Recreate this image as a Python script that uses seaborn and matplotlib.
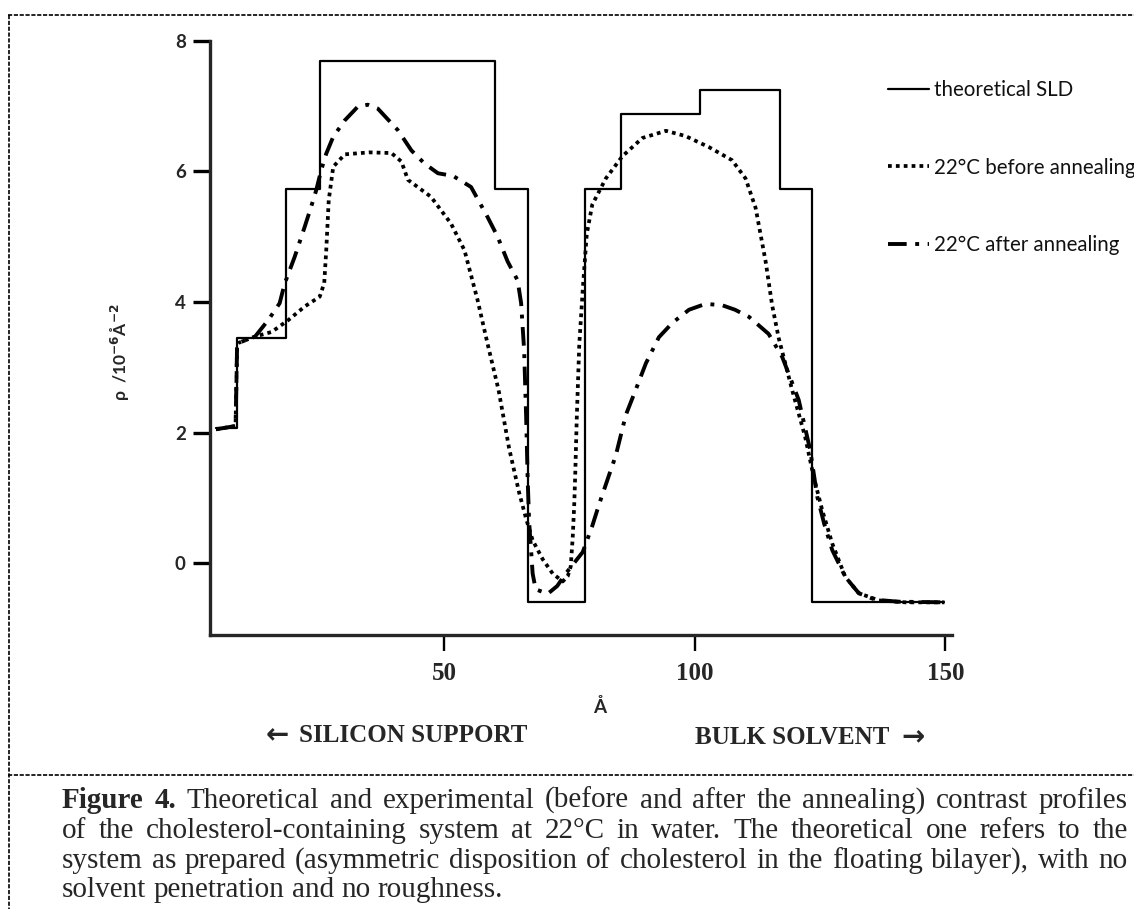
import numpy as np
import pandas as pd
import matplotlib
matplotlib.use("Agg")
import matplotlib.pyplot as plt
import seaborn as sns
from matplotlib.lines import Line2D

# ---------------- data ----------------
theo_x = [4.4, 8.5, 18.4, 25.2, 60.0, 66.7, 78.1, 85.3, 101.0, 116.9, 123.4, 149.8]
theo_y = [2.07, 3.45, 5.73, 7.69, 5.73, -0.60, 5.73, 6.87, 7.25, 5.73, -0.60, -0.60]

before_x = [4.4, 8.3, 8.6, 8.8, 12.2, 15.5, 18.8, 22.1, 25.1, 26.0, 26.4, 26.9, 27.8, 30.1,
            35.0, 39.4, 41.4, 42.7, 47.3, 51.3, 54.0, 56.6, 58.6, 60.8, 62.9, 64.9, 66.3,
            67.6, 69.6, 71.6, 73.6, 74.6, 75.2, 75.6, 75.9, 76.1, 76.4, 76.9, 77.6, 78.4,
            79.5, 82.2, 85.5, 89.5, 94.2, 98.1, 102.8, 107.4, 110.1, 112.1, 114.1, 115.4,
            116.7, 119.4, 122.0, 123.7, 125.4, 127.4, 130.0, 132.7, 136.7, 142.0, 149.8]
before_y = [2.05, 2.10, 3.30, 3.37, 3.47, 3.54, 3.72, 3.93, 4.08, 4.29, 4.79, 5.56, 6.07, 6.26,
            6.29, 6.28, 6.15, 5.87, 5.61, 5.20, 4.79, 4.03, 3.36, 2.65, 1.76, 1.08, 0.68,
            0.35, 0.06, -0.16, -0.28, -0.20, -0.05, 0.40, 0.90, 1.36, 2.21, 3.34, 4.19, 5.04,
            5.49, 5.89, 6.23, 6.51, 6.62, 6.54, 6.37, 6.17, 5.89, 5.44, 4.62, 3.95,
            3.45, 2.65, 1.93, 1.32, 0.81, 0.30, -0.21, -0.46, -0.57, -0.60, -0.60]

after_x = [4.4, 8.3, 8.6, 8.8, 12.2, 14.8, 17.1, 18.1, 20.1, 22.1, 23.4, 24.4, 25.4, 26.4,
           27.8, 30.1, 32.7, 34.7, 36.7, 40.7, 43.4, 46.0, 48.7, 51.7, 55.3, 58.6, 60.6,
           62.6, 64.6, 65.3, 65.9, 66.3, 66.6, 66.9, 67.6, 68.2, 70.6, 72.5, 74.2, 77.6,
           79.5, 80.9, 82.9, 84.2, 86.2, 88.2, 90.2, 92.8, 95.5, 98.8, 102.1, 105.4, 108.0,
           110.8, 114.7, 117.4, 120.7, 123.0, 124.4, 125.8, 127.4, 130.0, 132.7, 136.0,
           140.6, 149.8]
after_y = [2.05, 2.10, 3.30, 3.37, 3.47, 3.72, 3.98, 4.28, 4.69, 5.15, 5.46, 5.71, 6.02, 6.27,
           6.53, 6.78, 6.99, 7.02, 6.96, 6.63, 6.32, 6.12, 5.97, 5.93, 5.76, 5.30, 5.00,
           4.62, 4.33, 3.98, 3.26, 2.24, 1.30, 0.63, -0.16, -0.40, -0.47, -0.35, -0.16, 0.17,
           0.57, 0.91, 1.36, 1.65, 2.27, 2.66, 3.06, 3.46, 3.68, 3.88, 3.97, 3.95, 3.88,
           3.77, 3.51, 3.16, 2.50, 1.73, 1.02, 0.60, 0.20, -0.21, -0.46, -0.56,
           -0.59, -0.60]

series_labels = ["theoretical SLD", "22°C before annealing", "22°C after annealing"]
x_ticks = [50, 100, 150]
y_ticks = [0, 2, 4, 6, 8]

caption_lines = [
    "Figure 4. Theoretical and experimental (before and after the annealing) contrast profiles",
    "of the cholesterol-containing system at 22°C in water. The theoretical one refers to the",
    "system as prepared (asymmetric disposition of cholesterol in the floating bilayer), with no",
    "solvent penetration and no roughness.",
]

# ---------------- style ----------------
sns.set_style("ticks")
plt.rcParams["font.family"] = ["Lato", "DejaVu Sans"]
plt.rcParams["axes.linewidth"] = 2.4

W, H = 1134, 909
fig = plt.figure(figsize=(W / 100, H / 100), dpi=100)
fig.patch.set_facecolor("white")

ax_l, ax_r, ax_t, ax_b = 210, 952, 40.7, 635
ax = fig.add_axes([ax_l / W, 1 - ax_b / H, (ax_r - ax_l) / W, (ax_b - ax_t) / H])
ax.set_facecolor("white")

sns.lineplot(x=theo_x, y=theo_y, ax=ax, color="black", linewidth=1.6,
             drawstyle="steps-post", estimator=None, sort=False, label=series_labels[0])
sns.lineplot(x=before_x, y=before_y, ax=ax, color="black", linewidth=2.7,
             linestyle=(0, (1, 1.1)), estimator=None, sort=False, label=series_labels[1])
sns.lineplot(x=after_x, y=after_y, ax=ax, color="black", linewidth=2.8,
             linestyle=(0, (4.8, 2.2, 1, 2.2)), estimator=None, sort=False,
             label=series_labels[2])

ax.set_xlim(3.2, 151.3)
ax.set_ylim(-1.1, 8)
sns.despine(ax=ax)
ax.spines["left"].set_linewidth(2.4)
ax.spines["bottom"].set_linewidth(2.4)

serif = ["Liberation Serif", "DejaVu Serif"]
ax.set_xticks(x_ticks)
ax.set_xticklabels([str(v) for v in x_ticks], fontfamily=serif, fontweight="bold", fontsize=18)
ax.set_yticks(y_ticks)
ax.set_yticklabels([str(v) for v in y_ticks], fontweight="bold", fontsize=13.5)
ax.tick_params(axis="y", direction="out", length=12.5, width=2.4, pad=5, color="black")
ax.tick_params(axis="x", direction="out", length=11.5, width=1.7, pad=8, color="black")

ax.set_xlabel("Å", fontweight="bold", fontsize=13.5)
ax.xaxis.set_label_coords((600 - ax_l) / (ax_r - ax_l), (ax_b - 707) / (ax_b - ax_t))
ax.xaxis.label.set_va("center")
ax.set_ylabel(r"ρ  /10$^{\mathbf{-6}}$Å$^{\mathbf{-2}}$", fontweight="bold", fontsize=12.5)
ax.yaxis.set_label_coords((120 - ax_l) / (ax_r - ax_l), (ax_b - 352) / (ax_b - ax_t))
ax.yaxis.label.set_va("center")

leg = ax.legend(loc="upper left", bbox_to_anchor=(888 / W, 1 - 80 / H),
                bbox_transform=fig.transFigure, frameon=False, fontsize=14.8,
                handlelength=2.0, handletextpad=0.25, labelspacing=2.8,
                borderpad=0, borderaxespad=0)
for t in leg.get_texts():
    t.set_color("#111111")

arrow_font = ["DejaVu Sans"]
fig.text(266 / W, 1 - 735 / H, "←", fontfamily=arrow_font, fontweight="bold",
         fontsize=20, ha="left", va="center")
fig.text(299 / W, 1 - 735 / H, "SILICON SUPPORT", fontfamily=serif, fontweight="bold",
         fontsize=18, ha="left", va="center")
fig.text(695 / W, 1 - 737 / H, "BULK SOLVENT", fontfamily=serif, fontweight="bold",
         fontsize=18, ha="left", va="center")
fig.text(901 / W, 1 - 737 / H, "→", fontfamily=arrow_font, fontweight="bold",
         fontsize=20, ha="left", va="center")

# dashed frame lines
dash_kw = dict(color="black", linewidth=1.2, linestyle=(0, (2.5, 1)), transform=fig.transFigure)
fig.add_artist(Line2D([8 / W, 1], [1 - 15 / H, 1 - 15 / H], **dash_kw))
fig.add_artist(Line2D([9 / W, 9 / W], [1 - 15 / H, 0], **dash_kw))
fig.add_artist(Line2D([8 / W, 1], [1 - 775 / H, 1 - 775 / H], **dash_kw))

# caption, justified
renderer = fig.canvas.get_renderer()
cap_size = 21
x0, x1 = 62, 1128
baselines = [808, 838, 868, 897]
probe1 = fig.text(0, 0, "a b", fontfamily=serif, fontsize=cap_size)
probe2 = fig.text(0, 0, "ab", fontfamily=serif, fontsize=cap_size)
space_w = probe1.get_window_extent(renderer).width - probe2.get_window_extent(renderer).width
probe1.remove()
probe2.remove()
for li, (line, yb) in enumerate(zip(caption_lines, baselines)):
    words = line.split(" ")
    texts = []
    for wi, wd in enumerate(words):
        bold = (li == 0 and wi < 2)
        t = fig.text(0, 1 - yb / H, wd, fontfamily=serif, fontsize=cap_size,
                     fontweight="bold" if bold else "normal", ha="left", va="baseline")
        texts.append(t)
    widths = [t.get_window_extent(renderer).width for t in texts]
    if li < len(caption_lines) - 1:
        gap = max((x1 - x0 - sum(widths)) / (len(words) - 1), 2.0)
    else:
        gap = space_w
    x = x0
    for t, w in zip(texts, widths):
        t.set_x(x / W)
        x += w + gap

fig.savefig("out.png", dpi=100, facecolor="white")
